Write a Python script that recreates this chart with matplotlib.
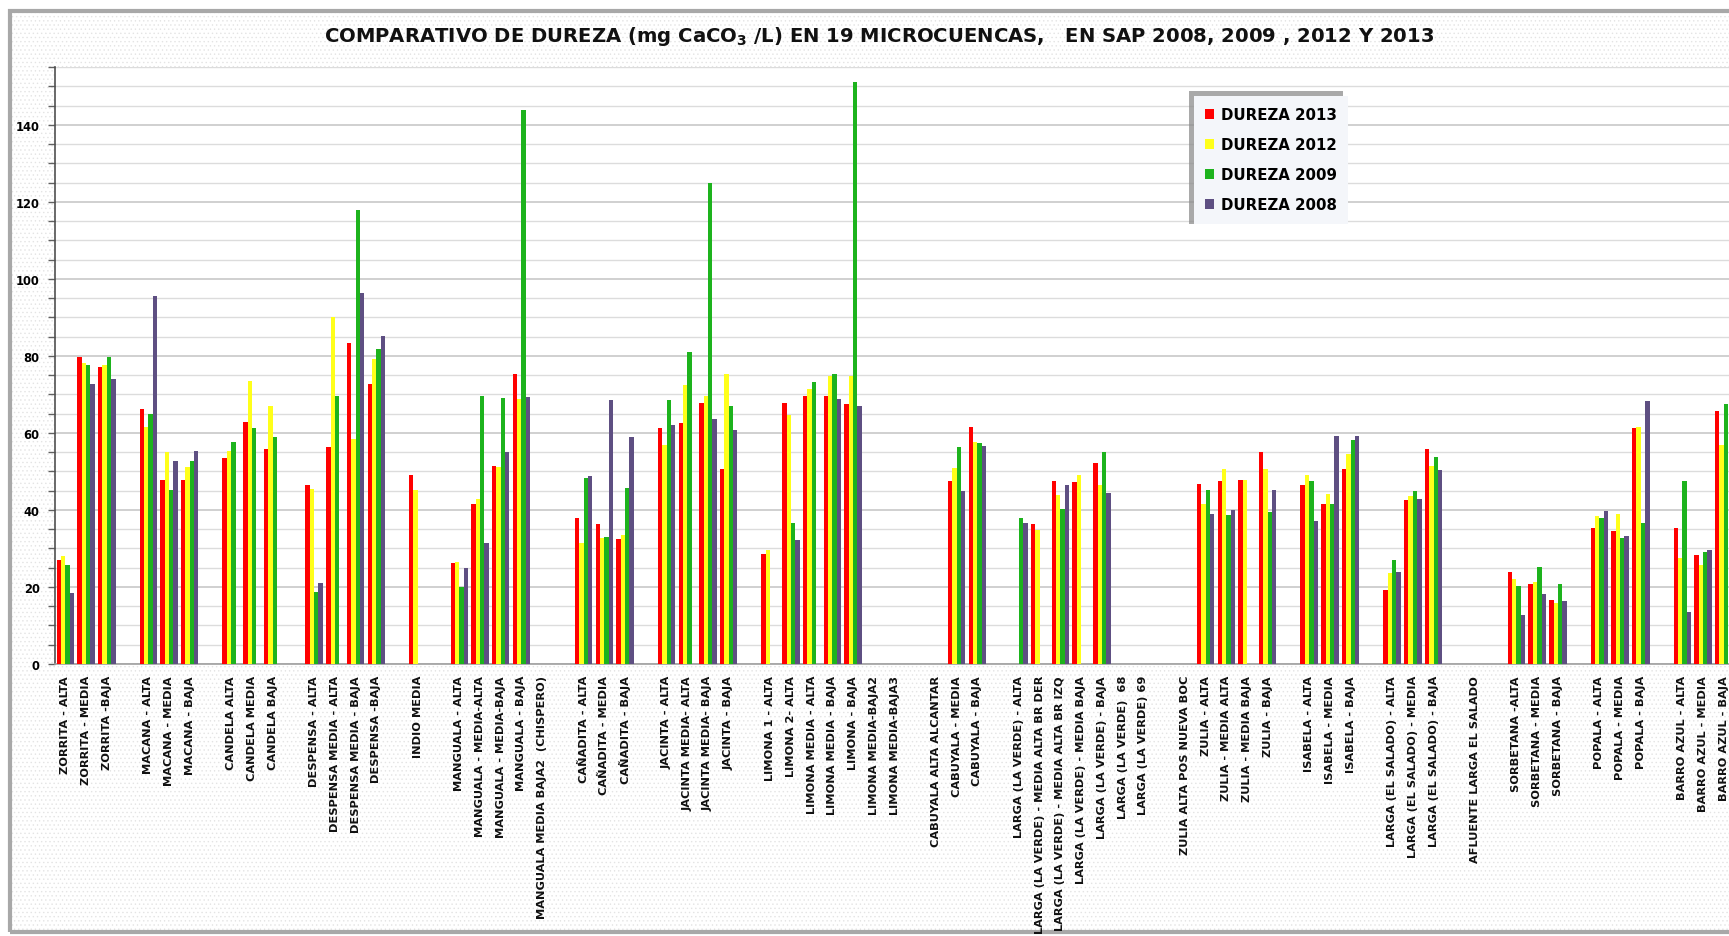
import numpy as np
import matplotlib.pyplot as plt
from matplotlib.patches import Rectangle
from matplotlib.ticker import MultipleLocator

nan = np.nan

# puntos de muestreo (las cadenas vacias separan microcuencas)
puntos = ['ZORRITA - ALTA', 'ZORRITA - MEDIA', 'ZORRITA -BAJA', '',
          'MACANA - ALTA', 'MACANA - MEDIA', 'MACANA - BAJA', '',
          'CANDELA ALTA', 'CANDELA MEDIA', 'CANDELA BAJA', '',
          'DESPENSA - ALTA', 'DESPENSA MEDIA - ALTA', 'DESPENSA MEDIA - BAJA', 'DESPENSA -BAJA', '',
          'INDIO MEDIA', '',
          'MANGUALA - ALTA', 'MANGUALA - MEDIA-ALTA', 'MANGUALA - MEDIA-BAJA', 'MANGUALA - BAJA',
          'MANGUALA MEDIA BAJA2  (CHISPERO)', '',
          'CAÑADITA - ALTA', 'CAÑADITA - MEDIA', 'CAÑADITA - BAJA', '',
          'JACINTA - ALTA', 'JACINTA MEDIA- ALTA', 'JACINTA MEDIA- BAJA', 'JACINTA - BAJA', '',
          'LIMONA 1 - ALTA', 'LIMONA 2- ALTA', 'LIMONA MEDIA - ALTA', 'LIMONA MEDIA - BAJA', 'LIMONA - BAJA',
          'LIMONA MEDIA-BAJA2', 'LIMONA MEDIA-BAJA3', '',
          'CABUYALA ALTA ALCANTAR', 'CABUYALA - MEDIA', 'CABUYALA - BAJA', '',
          'LARGA (LA VERDE) - ALTA', 'LARGA (LA VERDE) - MEDIA ALTA BR DER',
          'LARGA (LA VERDE) - MEDIA ALTA BR IZQ', 'LARGA (LA VERDE) - MEDIA BAJA',
          'LARGA (LA VERDE) - BAJA', 'LARGA (LA VERDE)  68', 'LARGA (LA VERDE) 69', '',
          'ZULIA ALTA POS NUEVA BOC', 'ZULIA - ALTA', 'ZULIA - MEDIA ALTA', 'ZULIA - MEDIA BAJA', 'ZULIA - BAJA', '',
          'ISABELA - ALTA', 'ISABELA - MEDIA', 'ISABELA - BAJA', '',
          'LARGA (EL SALADO) - ALTA', 'LARGA (EL SALADO) - MEDIA', 'LARGA (EL SALADO) - BAJA', '',
          'AFLUENTE LARGA EL SALADO', '',
          'SORBETANA -ALTA', 'SORBETANA - MEDIA', 'SORBETANA - BAJA', '',
          'POPALA - ALTA', 'POPALA - MEDIA', 'POPALA - BAJA', '',
          'BARRO AZUL - ALTA', 'BARRO AZUL - MEDIA', 'BARRO AZUL - BAJA']

# dureza en mg CaCO3/L
dureza_2013 = [26.9, 79.8, 77.1, nan,
               66.1, 47.8, 47.8, nan,
               53.5, 62.8, 55.8, nan,
               46.4, 56.4, 83.4, 72.6, nan,
               49.0, nan,
               26.1, 41.6, 51.5, 75.2, nan, nan,
               37.9, 36.4, 32.4, nan,
               61.2, 62.5, 67.7, 50.7, nan,
               28.5, 67.7, 69.7, 69.7, 67.4, nan, nan, nan,
               nan, 47.5, 61.5, nan,
               nan, 36.4, 47.4, 47.2, 52.1, nan, nan, nan,
               nan, 46.7, 47.5, 47.8, 55.1, nan,
               46.5, 41.5, 50.7, nan,
               19.2, 42.6, 55.9, nan,
               nan, nan,
               23.9, 20.8, 16.6, nan,
               35.2, 34.6, 61.2, nan,
               35.2, 28.4, 65.8]

dureza_2012 = [28.1, 78.2, 77.6, nan,
               61.5, 55.0, 51.1, nan,
               55.4, 73.6, 66.9, nan,
               45.5, 90.1, 58.3, 79.3, nan,
               45.3, nan,
               26.6, 42.8, 51.1, 68.9, nan, nan,
               31.3, 32.8, 33.6, nan,
               56.9, 72.5, 69.7, 75.4, nan,
               29.7, 64.6, 71.3, 74.9, 74.7, nan, nan, nan,
               nan, 50.8, 57.7, nan,
               nan, 34.9, 43.9, 49.0, 46.6, nan, nan, nan,
               nan, 41.5, 50.6, 47.8, 50.7, nan,
               49.2, 44.1, 54.6, nan,
               23.6, 43.6, 51.3, nan,
               nan, nan,
               22.1, 21.3, 15.9, nan,
               38.5, 39.0, 61.5, nan,
               27.5, 25.8, 56.9]

dureza_2009 = [25.6, 77.6, 79.8, nan,
               65.0, 45.1, 52.8, nan,
               57.6, 61.3, 59.0, nan,
               18.7, 69.5, 117.9, 81.8, nan,
               nan, nan,
               20.1, 69.5, 69.0, 143.8, nan, nan,
               48.2, 33.1, 45.6, nan,
               68.5, 81.0, 124.9, 66.9, nan,
               nan, 36.7, 73.3, 75.4, 151.0, nan, nan, nan,
               nan, 56.4, 57.4, nan,
               37.9, nan, 40.2, nan, 55.1, nan, nan, nan,
               nan, 45.1, 38.8, nan, 39.5, nan,
               47.4, 41.5, 58.2, nan,
               26.9, 44.9, 53.8, nan,
               nan, nan,
               20.2, 25.3, 20.8, nan,
               37.9, 32.8, 36.7, nan,
               47.4, 29.2, 67.5]

dureza_2008 = [18.5, 72.8, 74.1, nan,
               95.6, 52.8, 55.4, nan,
               nan, nan, nan, nan,
               21.0, nan, 96.3, 85.1, nan,
               nan, nan,
               24.9, 31.3, 55.1, 69.2, nan, nan,
               48.7, 68.5, 59.0, nan,
               62.1, nan, 63.6, 60.7, nan,
               nan, 32.2, nan, 68.7, 66.9, nan, nan, nan,
               nan, 44.8, 56.6, nan,
               36.7, nan, 46.5, nan, 44.3, nan, nan, nan,
               nan, 39.0, 40.0, nan, 45.1, nan,
               37.1, 59.3, 59.3, nan,
               23.9, 42.9, 50.3, nan,
               nan, nan,
               12.8, 18.3, 16.4, nan,
               39.8, 33.3, 68.2, nan,
               13.5, 29.7, nan]

series = [('DUREZA 2013', dureza_2013, '#FF0000'),
          ('DUREZA 2012', dureza_2012, '#FFFF1A'),
          ('DUREZA 2009', dureza_2009, '#1DB31D'),
          ('DUREZA 2008', dureza_2008, '#5E4F82')]

W, H = 1729, 937
fig = plt.figure(figsize=(W / 100, H / 100), dpi=100)
fig.patch.set_facecolor('white')

# fondo punteado del grafico y marco gris
plt.rcParams['hatch.linewidth'] = 0.5
fondo = Rectangle((10 / W, 1 - 933 / H), 1.0, (933 - 12) / H, transform=fig.transFigure,
                  facecolor='white', edgecolor='#e4e4e4', hatch='....', linewidth=0, zorder=-2)
fig.add_artist(fondo)
marco = Rectangle((10 / W, 1 - 933 / H), 1.0, (933 - 12) / H, transform=fig.transFigure,
                  facecolor='none', edgecolor='#a8a8a8', linewidth=3, zorder=-1)
fig.add_artist(marco)

ax = fig.add_axes([55 / W, 1 - 665 / H, 1 - 55 / W, (665 - 68) / H])
ax.set_facecolor('white')

x = np.arange(len(puntos))
w = 0.21
handles = []
for k, (nombre, vals, color) in enumerate(series):
    b = ax.bar(x + (k - 1.5) * w, vals, width=w, color=color, label=nombre,
               linewidth=0, zorder=3)
    handles.append(b)

ax.set_xlim(-0.5, (W - 55) / 20.73 - 0.5)
ax.set_ylim(0, 155)
ax.yaxis.set_major_locator(MultipleLocator(20))
ax.yaxis.set_minor_locator(MultipleLocator(5))
ax.grid(which='minor', axis='y', color='#dcdcdc', linewidth=1.0, zorder=0)
ax.grid(which='major', axis='y', color='#c8c8c8', linewidth=1.2, zorder=0)
ax.set_axisbelow(True)

ax.set_xticks(x)
ax.set_xticklabels(puntos, rotation=90, ha='center', va='top',
                   fontsize=8.2, fontweight='bold', color='#111111')
ax.tick_params(axis='x', length=0, pad=8)
ax.tick_params(axis='y', which='major', length=5, width=1, color='#606060',
               labelsize=8.3, pad=6)
ax.tick_params(axis='y', which='minor', length=5, width=1, color='#606060')
for t in ax.get_yticklabels():
    t.set_fontweight('bold')

for s in ['top', 'right']:
    ax.spines[s].set_visible(False)
ax.spines['left'].set_color('#505050')
ax.spines['left'].set_linewidth(1.2)
ax.spines['bottom'].set_color('#a0a0a0')
ax.spines['bottom'].set_linewidth(1.2)

titulo = fig.text(879 / W, 1 - 36 / H,
                  'COMPARATIVO DE DUREZA (mg CaCO$\\mathregular{_3}$ /L) EN 19 MICROCUENCAS,   '
                  'EN SAP 2008, 2009 , 2012 Y 2013',
                  ha='center', va='center', fontsize=14, fontweight='bold',
                  family=['Liberation Sans Narrow', 'DejaVu Sans'], color='#111111')

leg = ax.legend(handles=handles, loc='upper left', bbox_to_anchor=(1194 / W, 1 - 97 / H),
                bbox_transform=fig.transFigure, borderaxespad=0, fancybox=False,
                frameon=True, facecolor='#f4f6fa', edgecolor='none', framealpha=1,
                prop={'size': 10.8, 'weight': 'bold'}, handlelength=0.6, handleheight=0.6,
                handletextpad=0.45, labelspacing=1.0, borderpad=0.75)

# ajustar el ancho del titulo y poner la sombra de la leyenda
fig.canvas.draw()
bb = titulo.get_window_extent()
titulo.set_fontsize(titulo.get_fontsize() * 1116 / bb.width)
lb = leg.get_window_extent()
sombra = Rectangle(((lb.x0 - 5) / W, lb.y0 / H), lb.width / W, (lb.height + 5) / H,
                   transform=fig.transFigure, facecolor='#8c8c8c', edgecolor='none',
                   alpha=0.75, zorder=4.5)
ax.add_artist(sombra)

fig.savefig('out.png', dpi=100)
